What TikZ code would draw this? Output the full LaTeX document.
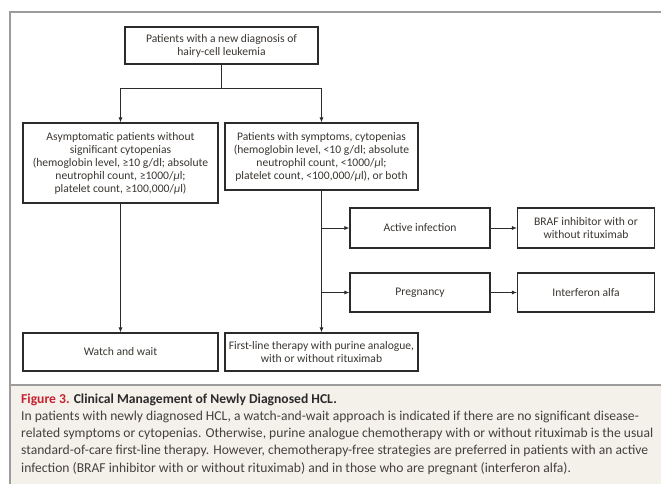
\documentclass[tikz,border=0pt]{standalone}
\usepackage{fontspec}
\setmainfont{Carlito}
\usetikzlibrary{arrows.meta,positioning}
\definecolor{boxline}{HTML}{2B2B2B}
\definecolor{boxtext}{HTML}{3A3530}
\definecolor{framegray}{HTML}{9C9C9C}
\definecolor{capback}{HTML}{F4F1EB}
\definecolor{figred}{HTML}{C8202F}
\definecolor{captext}{HTML}{45403B}
\tikzset{
  stepbox/.style={draw=boxline,line width=1.1pt,text=boxtext,align=center,
    font=\fontsize{11.6}{13}\selectfont,inner sep=2pt},
  conn/.style={draw=boxline,line width=0.9pt},
  arr/.style={conn,-{Latex[length=5pt,width=4pt]}}
}

\begin{document}
\begin{tikzpicture}[x=1pt,y=-1pt]
  \useasboundingbox (0,0) rectangle (661,484);
  % frame and caption panel
  \fill[capback] (10,385) rectangle (661,484);
  \draw[framegray,line width=2pt] (10,484) -- (10,12) -- (661,12);
  \draw[framegray,line width=1.5pt] (10,385) -- (661,385);
  % boxes
  \node[stepbox,minimum width=193pt,minimum height=37pt] (diag) at (221.5,45.5)
    {Patients with a new diagnosis of\\hairy-cell leukemia};
  \node[stepbox,minimum width=195pt,minimum height=80pt] (asym) at (120.5,163)
    {Asymptomatic patients without\\significant cytopenias\\
     (hemoglobin level, ≥10 g/dl; absolute\\neutrophil count, ≥1000/\textit{μ}l;\\
     platelet count, ≥100,000/\textit{μ}l)};
  \node[stepbox,minimum width=193pt,minimum height=67pt] (symp) at (321.5,156.5)
    {Patients with symptoms, cytopenias\\(hemoglobin level, <10 g/dl; absolute\\
     neutrophil count, <1000/\textit{μ}l;\\platelet count, <100,000/\textit{μ}l), or both};
  \node[stepbox,minimum width=140pt,minimum height=40pt] (infect) at (420,228)
    {Active infection};
  \node[stepbox,minimum width=137pt,minimum height=40pt] (braf) at (586,228)
    {BRAF inhibitor with or\\without rituximab};
  \node[stepbox,minimum width=140pt,minimum height=39pt] (preg) at (420,292.5)
    {Pregnancy};
  \node[stepbox,minimum width=137pt,minimum height=39pt] (ifn) at (586,292.5)
    {Interferon alfa};
  \node[stepbox,minimum width=195pt,minimum height=38pt] (watch) at (120.5,352)
    {Watch and wait};
  \node[stepbox,minimum width=193pt,minimum height=38pt] (first) at (321.5,352)
    {First-line therapy with purine analogue,\\with or without rituximab};
  % connectors
  \draw[conn] (diag.south) -- ++(0,24) coordinate (fork);
  \draw[arr] (fork) -| (asym.north);
  \draw[arr] (fork) -| (symp.north);
  \draw[arr] (asym.south) -- (watch.north);
  \draw[arr] (symp.south) -- (first.north);
  \draw[arr] (symp.south |- infect.west) -- (infect.west);
  \draw[arr] (symp.south |- preg.west) -- (preg.west);
  \draw[arr] (infect) -- (braf);
  \draw[arr] (preg) -- (ifn);
  % caption
  \node[anchor=north west,align=left,inner sep=0pt,text=captext,
    font=\fontsize{13.6}{17.2}\selectfont] (caption) at (21,393.5)
    {{\bfseries\color{figred}Figure 3.} {\bfseries\color{boxline}Clinical Management of Newly Diagnosed HCL.}\\
     In patients with newly diagnosed HCL, a watch-and-wait approach is indicated if there are no significant disease-\\
     related symptoms or cytopenias. Otherwise, purine analogue chemotherapy with or without rituximab is the usual\\
     standard-of-care first-line therapy. However, chemotherapy-free strategies are preferred in patients with an active\\
     infection (BRAF inhibitor with or without rituximab) and in those who are pregnant (interferon alfa).};
\end{tikzpicture}
\end{document}
